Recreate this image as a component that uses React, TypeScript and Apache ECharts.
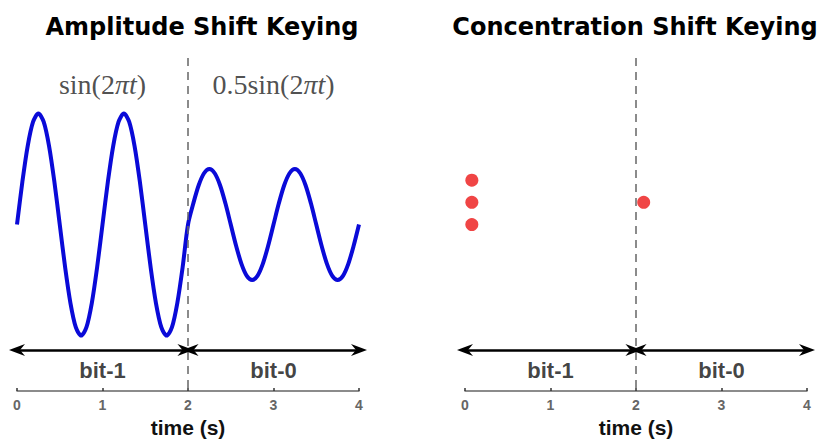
import React, { useEffect, useRef } from "react";
import * as echarts from "echarts";

// time samples (s)
const timeS = [
  0, 0.0625, 0.125, 0.1875, 0.25, 0.3125, 0.375, 0.4375, 0.5, 0.5625, 0.625, 0.6875, 0.75, 0.8125, 0.875, 0.9375,
  1, 1.0625, 1.125, 1.1875, 1.25, 1.3125, 1.375, 1.4375, 1.5, 1.5625, 1.625, 1.6875, 1.75, 1.8125, 1.875, 1.9375,
  2, 2.0625, 2.125, 2.1875, 2.25, 2.3125, 2.375, 2.4375, 2.5, 2.5625, 2.625, 2.6875, 2.75, 2.8125, 2.875, 2.9375,
  3, 3.0625, 3.125, 3.1875, 3.25, 3.3125, 3.375, 3.4375, 3.5, 3.5625, 3.625, 3.6875, 3.75, 3.8125, 3.875, 3.9375,
  4,
];
// ASK signal amplitude (bit-1: amplitude 1, bit-0: amplitude 0.5)
const askValues = [
  0, 0.383, 0.707, 0.924, 1, 0.924, 0.707, 0.383, 0, -0.383, -0.707, -0.924, -1, -0.924, -0.707, -0.383,
  0, 0.383, 0.707, 0.924, 1, 0.924, 0.707, 0.383, 0, -0.383, -0.707, -0.924, -1, -0.924, -0.707, -0.383,
  0, 0.191, 0.354, 0.462, 0.5, 0.462, 0.354, 0.191, 0, -0.191, -0.354, -0.462, -0.5, -0.462, -0.354, -0.191,
  0, 0.191, 0.354, 0.462, 0.5, 0.462, 0.354, 0.191, 0, -0.191, -0.354, -0.462, -0.5, -0.462, -0.354, -0.191,
  0,
];
// CSK molecules
const moleculeT = [0.08, 0.08, 0.08, 2.09];
const moleculeY = [0.4, 0.2, 0.0, 0.2];

const bitBoundary = 2;
const bitNames = ["bit-1", "bit-0"];
const bitCentres = [1, 3];
const panelTitles = ["Amplitude Shift Keying", "Concentration Shift Keying"];
const formulaLeft = "{n|sin(2}{i|πt}{n|)}";
const formulaRight = "{n|0.5sin(2}{i|πt}{n|)}";

const arrowPath = "path://M6,0 L12,16 L6,11 L0,16 Z";

export default function App() {
  const ref = useRef<HTMLDivElement>(null);
  useEffect(() => {
    document.body.style.margin = "0";
    const chart = echarts.init(ref.current!, null, { renderer: "svg" });

    const xAxisBase = (gi: number) => ({
      type: "value",
      gridIndex: gi,
      min: 0,
      max: 4,
      interval: 1,
      axisLine: { show: true, onZero: false, lineStyle: { color: "#666", width: 1.5 } },
      axisTick: { show: true, inside: true, length: 3, lineStyle: { color: "#333", width: 1.5 } },
      axisLabel: { color: "#666", fontWeight: "bold", fontSize: 14, margin: 7, fontFamily: "Liberation Sans" },
      splitLine: { show: false },
      name: "time (s)",
      nameLocation: "middle",
      nameGap: 21,
      nameTextStyle: { color: "#111", fontWeight: "bold", fontSize: 21, fontFamily: "Liberation Sans" },
    });
    const yAxisBase = (gi: number) => ({
      type: "value",
      gridIndex: gi,
      min: -1.5,
      max: 1.5,
      show: false,
    });

    const arrowY = -1.13;
    const markLines = {
      silent: true,
      animation: false,
      label: { show: false },
      emphasis: { disabled: true },
      data: [
        [
          { coord: [bitBoundary, 1.5], symbol: "none", lineStyle: { color: "#666", width: 1.5, type: [8, 6] } },
          { coord: [bitBoundary, -1.5], symbol: "none" },
        ],
        [
          { coord: [0, arrowY], symbol: arrowPath, symbolSize: [12, 16], lineStyle: { color: "#000", width: 2.5, type: "solid" } },
          { coord: [bitBoundary - 0.03, arrowY], symbol: arrowPath, symbolSize: [12, 16] },
        ],
        [
          { coord: [bitBoundary + 0.03, arrowY], symbol: arrowPath, symbolSize: [12, 16], lineStyle: { color: "#000", width: 2.5, type: "solid" } },
          { coord: [4, arrowY], symbol: arrowPath, symbolSize: [12, 16] },
        ],
      ],
      itemStyle: { color: "#000" },
    };

    const labelSeries = (gi: number, data: any[], formatter: any, style: any) => ({
      type: "scatter",
      xAxisIndex: gi,
      yAxisIndex: gi,
      symbolSize: 0,
      silent: true,
      data,
      label: { show: true, position: "inside", formatter, ...style },
    });

    const bitLabelStyle = { color: "#111", fontWeight: "bold", fontSize: 22, fontFamily: "Liberation Sans" };
    const bitData = bitCentres.map((c, i) => ({ value: [c, -1.31], name: bitNames[i] }));
    const richFormula = {
      n: { fontFamily: "Liberation Serif", fontSize: 28, color: "#222" },
      i: { fontFamily: "Liberation Serif", fontStyle: "italic", fontSize: 28, color: "#222" },
    };

    chart.setOption({
      animation: false,
      grid: [
        { left: 17, width: 342, top: 58, height: 339 },
        { left: 465, width: 342, top: 58, height: 339 },
      ],
      xAxis: [xAxisBase(0), xAxisBase(1)],
      yAxis: [yAxisBase(0), yAxisBase(1)],
      graphic: [
        {
          type: "text",
          x: 202,
          y: 27,
          style: {
            text: panelTitles[0],
            fill: "#000",
            font: "bold 24px 'DejaVu Sans'",
            textAlign: "center",
            textVerticalAlign: "middle",
          },
        },
        {
          type: "text",
          x: 635,
          y: 27,
          style: {
            text: panelTitles[1],
            fill: "#000",
            font: "bold 24px 'DejaVu Sans'",
            textAlign: "center",
            textVerticalAlign: "middle",
          },
        },
      ],
      series: [
        {
          type: "line",
          xAxisIndex: 0,
          yAxisIndex: 0,
          data: timeS.map((t, i) => [t, askValues[i]]),
          smooth: 0.3,
          showSymbol: false,
          symbol: "none",
          lineStyle: { color: "#0a0ad8", width: 4 },
          markLine: markLines,
          z: 3,
        },
        {
          type: "scatter",
          xAxisIndex: 1,
          yAxisIndex: 1,
          data: moleculeT.map((t, i) => [t, moleculeY[i]]),
          symbolSize: 13,
          itemStyle: { color: "#f04545", opacity: 1 },
          markLine: markLines,
          z: 3,
        },
        labelSeries(0, bitData, "{b}", bitLabelStyle),
        labelSeries(1, bitData, "{b}", bitLabelStyle),
        labelSeries(0, [{ value: [1, 1.26] }], formulaLeft, { rich: richFormula }),
        labelSeries(0, [{ value: [3, 1.26] }], formulaRight, { rich: richFormula }),
      ],
    });
    return () => chart.dispose();
  }, []);
  return <div ref={ref} style={{ position: "fixed", left: 0, top: 0, width: 829, height: 443, background: "#fff" }} />;
}
